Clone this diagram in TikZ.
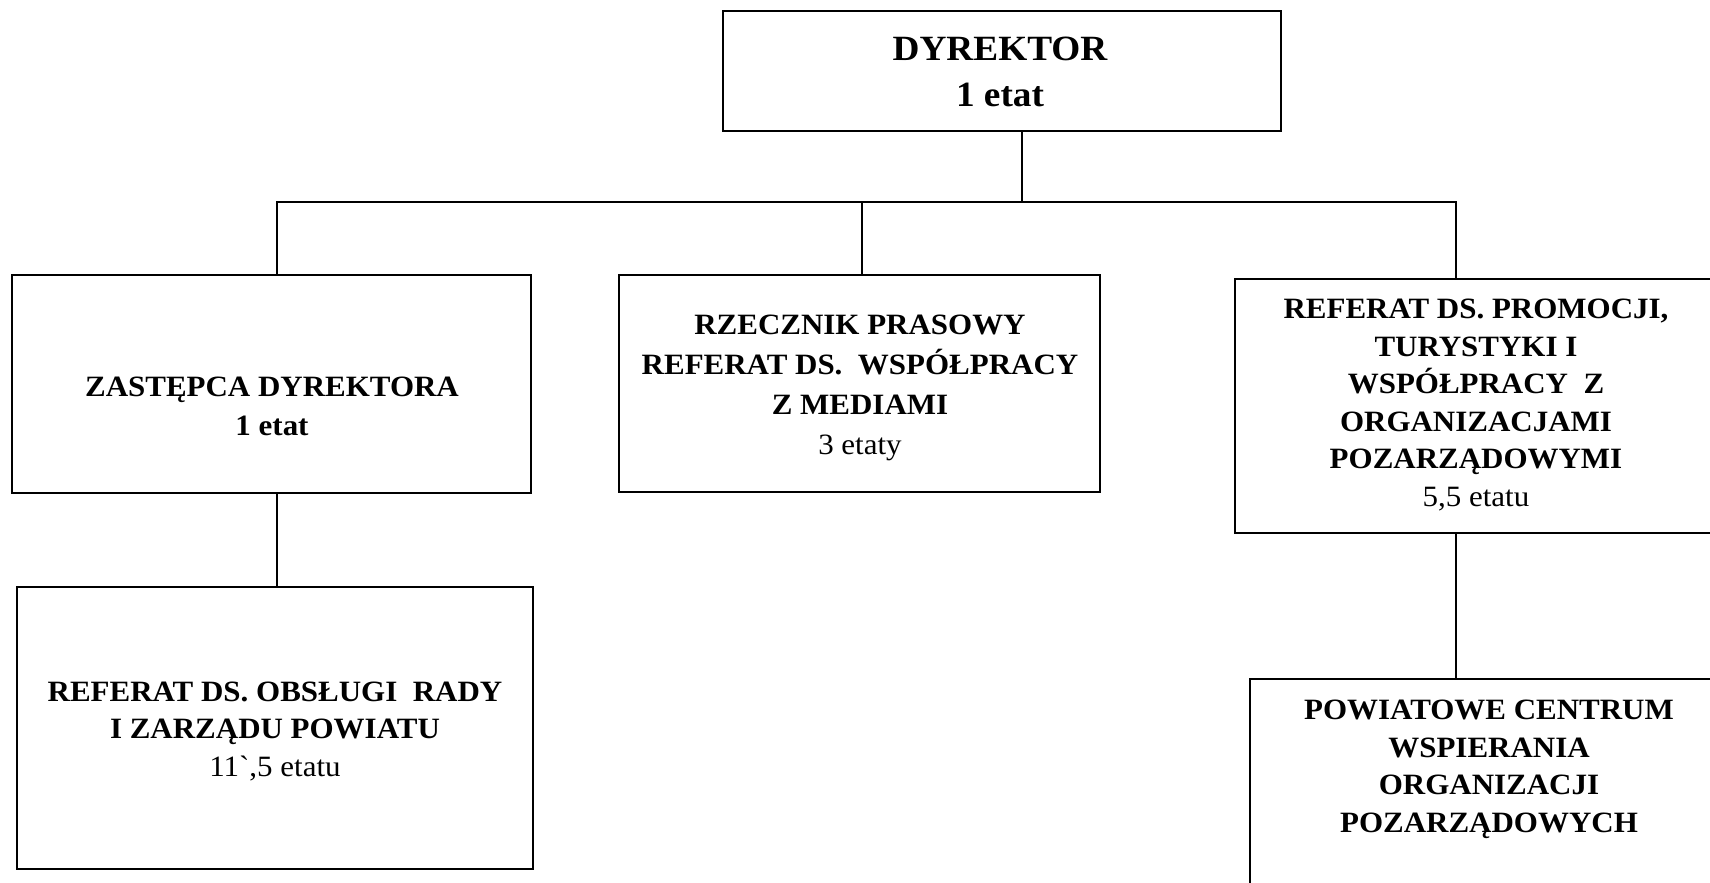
\documentclass[tikz,border=0pt]{standalone}
\usepackage{fontspec}
\setmainfont{Liberation Serif}[Ligatures=TeXOff, FakeStretch=1.05]
\begin{document}
\begin{tikzpicture}[x=1pt,y=-1pt,
  box/.style={draw=black, line width=1.4pt, rectangle, inner sep=0pt},
  lbl/.style={align=center, inner sep=0pt, text=black,
    font=\fontsize{29.5}{37.5}\selectfont\bfseries},
  conn/.style={draw=black, line width=1.4pt}]
\useasboundingbox (0,0) rectangle (1710,883);
\clip (0,0) rectangle (1710,883);
\fill[white] (0,0) rectangle (1710,883);

% boxes
\node[box, minimum width=558, minimum height=120] (dyr) at (1002,71) {};
\node[box, minimum width=519, minimum height=218] (zast) at (271.5,384) {};
\node[box, minimum width=481, minimum height=217] (rzecz) at (859.5,383.5) {};
\node[box, minimum width=482, minimum height=254] (prom) at (1476,406) {};
\node[box, minimum width=516, minimum height=282] (obsl) at (275,728) {};
\node[box, minimum width=478, minimum height=251] (powiat) at (1489,804.5) {};

% texts
\node[lbl, font=\fontsize{35.5}{46}\selectfont\bfseries] (dyrt) at (1000,72) {DYREKTOR\\1 etat};
\node[lbl, font=\fontsize{29.5}{39}\selectfont\bfseries] (zastt) at (272,406) {ZASTĘPCA DYREKTORA\\1 etat};
\node[lbl, font=\fontsize{29.5}{40}\selectfont\bfseries] (rzecht) at (860,388) {RZECZNIK PRASOWY\\REFERAT DS.\ \ WSPÓŁPRACY\\Z MEDIAMI\\{\mdseries 3 etaty}};
\node[lbl] (promt) at (1476,405) {REFERAT DS. PROMOCJI,\\TURYSTYKI I\\WSPÓŁPRACY\ \ Z\\ORGANIZACJAMI\\POZARZĄDOWYMI\\{\mdseries 5,5 etatu}};
\node[lbl] (obslt) at (275,731) {REFERAT DS. OBSŁUGI\ \ RADY\\I ZARZĄDU POWIATU\\{\mdseries 11`,5 etatu}};
\node[lbl, anchor=north] (powiatt) at (1489,700) {POWIATOWE CENTRUM\\WSPIERANIA\\ORGANIZACJI\\POZARZĄDOWYCH};

% bus coordinates
\coordinate (busL) at (277,202);
\coordinate (busM) at (862,202);
\coordinate (busD) at (1022,202);
\coordinate (busR) at (1456,202);

% connectors
\draw[conn] (dyr.south -| busD) -- (busD);
\draw[conn] (zast.north -| busL) -- (busL) -- (busR) -- (prom.north -| busR);
\draw[conn] (busM) -- (rzecz.north -| busM);
\draw[conn] (zast.south -| busL) -- (obsl.north -| busL);
\draw[conn] (prom.south -| busR) -- (powiat.north -| busR);
\end{tikzpicture}
\end{document}
